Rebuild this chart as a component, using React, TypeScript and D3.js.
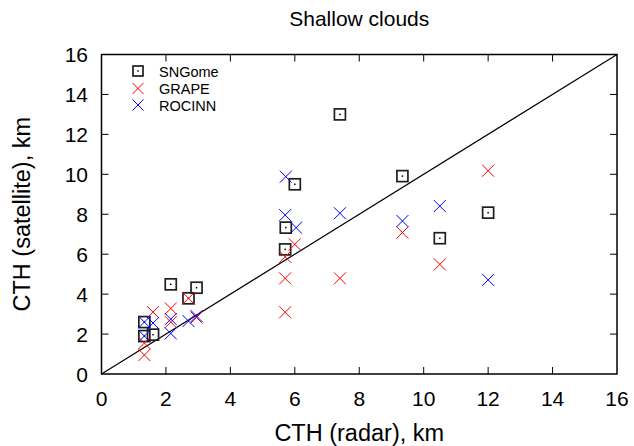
import React from "react";
import * as d3 from "d3";

// radar CTH (x) and satellite CTH (y), km
const sngomeX = [1.33, 1.33, 1.6, 2.15, 2.7, 2.95, 5.7, 5.72, 6.0, 7.4, 9.34, 10.5, 12.0];
const sngomeY = [2.6, 1.9, 1.97, 4.49, 3.79, 4.32, 6.24, 7.33, 9.5, 13.0, 9.91, 6.8, 8.08];

const grapeX = [1.33, 1.33, 1.6, 2.15, 2.15, 2.7, 2.95, 5.7, 5.7, 5.7, 6.0, 7.4, 9.34, 10.5, 12.0];
const grapeY = [1.55, 0.95, 3.1, 3.28, 2.6, 3.79, 2.83, 5.87, 4.79, 3.09, 6.49, 4.79, 7.08, 5.49, 10.18];

const rocinnX = [1.33, 1.33, 1.6, 2.15, 2.15, 2.7, 2.95, 5.72, 5.7, 6.04, 7.4, 9.34, 10.5, 12.0];
const rocinnY = [2.6, 1.9, 2.55, 2.75, 2.03, 2.65, 2.9, 9.88, 7.96, 7.33, 8.05, 7.66, 8.41, 4.71];

const ticks = [0, 2, 4, 6, 8, 10, 12, 14, 16];
const legendLabels = ["SNGome", "GRAPE", "ROCINN"];

const W = 634;
const H = 446;
const font = "'Liberation Sans', Arial, sans-serif";

const Cross = ({ cx, cy, color, r = 6 }: { cx: number; cy: number; color: string; r?: number }) => (
  <g stroke={color} strokeWidth={1}>
    <line x1={cx - r} y1={cy - r} x2={cx + r} y2={cy + r} />
    <line x1={cx - r} y1={cy + r} x2={cx + r} y2={cy - r} />
  </g>
);

const Box = ({ cx, cy, s = 11 }: { cx: number; cy: number; s?: number }) => (
  <g>
    <rect x={cx - s / 2} y={cy - s / 2} width={s} height={s} fill="none" stroke="#1e1e1e" strokeWidth={1.7} />
    <rect x={cx - 0.75} y={cy - 0.75} width={1.5} height={1.5} fill="#000" />
  </g>
);

export default function App() {
  const x = d3.scaleLinear().domain([0, 16]).range([101.5, 617]);
  const y = d3.scaleLinear().domain([0, 16]).range([374, 54.5]);
  const [x0, x1] = x.range();
  const [y0, y1] = y.range();
  const tl = 7;

  return (
    <svg width={W} height={H} style={{ position: "absolute", left: 0, top: 0, background: "#fff" }} fontFamily={font}>
      <text x={(x0 + x1) / 2} y={26} textAnchor="middle" fontSize={21}>Shallow clouds</text>

      {/* ticks on all four sides, pointing inward */}
      <g stroke="#000" strokeWidth={1}>
        {ticks.slice(1, -1).map((t) => (
          <g key={"t" + t}>
            <line x1={x(t)} x2={x(t)} y1={y0} y2={y0 - tl} />
            <line x1={x(t)} x2={x(t)} y1={y1} y2={y1 + tl} />
            <line y1={y(t)} y2={y(t)} x1={x0} x2={x0 + tl} />
            <line y1={y(t)} y2={y(t)} x1={x1} x2={x1 - tl} />
          </g>
        ))}
      </g>

      {ticks.map((t) => (
        <text key={"xl" + t} x={x(t)} y={406} textAnchor="middle" fontSize={21}>{t}</text>
      ))}
      {ticks.map((t) => (
        <text key={"yl" + t} x={88} y={y(t) + 7.5} textAnchor="end" fontSize={21}>{t}</text>
      ))}

      <text x={(x0 + x1) / 2} y={441} textAnchor="middle" fontSize={23.5}>CTH (radar), km</text>
      <text transform={`translate(30,${(y0 + y1) / 2}) rotate(-90)`} textAnchor="middle" fontSize={23.5}>CTH (satellite), km</text>

      {/* 1:1 line */}
      <line x1={x(0)} y1={y(0)} x2={x(16)} y2={y(16)} stroke="#000" strokeWidth={1.2} />

      {sngomeX.map((v, i) => <Box key={"s" + i} cx={x(v)} cy={y(sngomeY[i])} />)}
      {grapeX.map((v, i) => <Cross key={"g" + i} cx={x(v)} cy={y(grapeY[i])} color="#ff0000" />)}
      {rocinnX.map((v, i) => <Cross key={"r" + i} cx={x(v)} cy={y(rocinnY[i])} color="#0000ff" />)}

      {/* legend */}
      <Box cx={138} cy={71} s={10} />
      <Cross cx={138} cy={88.5} color="#ff0000" r={5.5} />
      <Cross cx={138} cy={105} color="#0000ff" r={5.5} />
      {legendLabels.map((l, i) => (
        <text key={l} x={159} y={76.7 + i * 17} fontSize={14.5}>{l}</text>
      ))}

      <rect x={x0} y={y1} width={x1 - x0} height={y0 - y1} fill="none" stroke="#000" strokeWidth={1.5} />
    </svg>
  );
}
